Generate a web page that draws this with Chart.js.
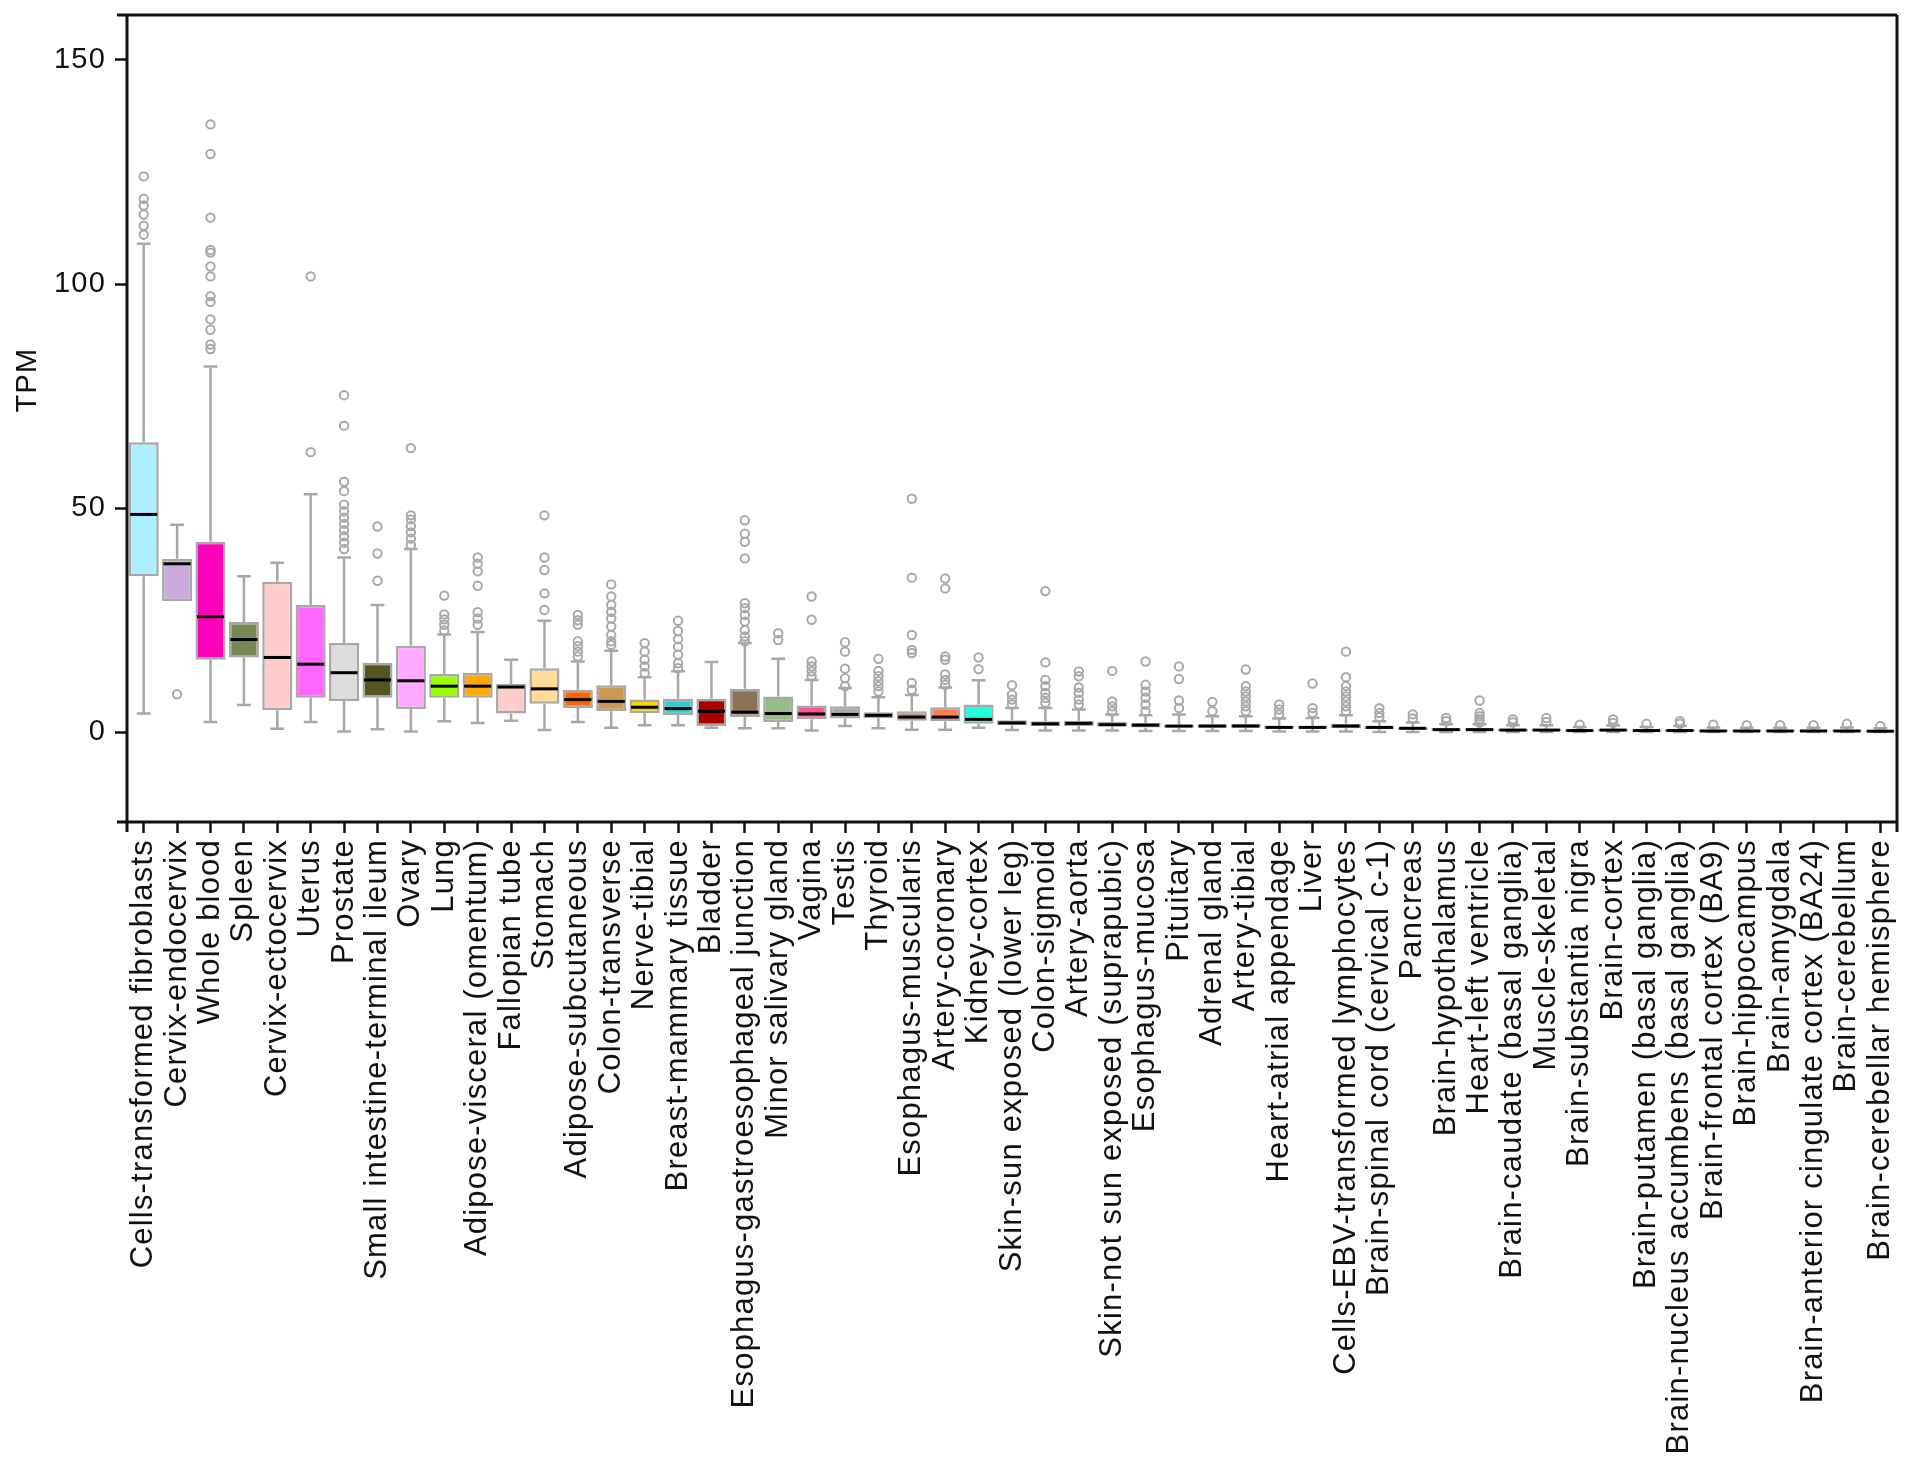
<!DOCTYPE html>
<html>
<head>
<meta charset="utf-8">
<title>TPM by tissue</title>
<script src="https://cdn.jsdelivr.net/npm/chart.js@4.4.1/dist/chart.umd.min.js"></script>
<style>
  html, body { margin: 0; padding: 0; background: #fff; }
  #wrap { position: relative; width: 1913px; height: 1466px; }
</style>
</head>
<body>
<div id="wrap"><canvas id="boxChart"></canvas></div>
<script>
// tissues, in the order they appear on the x axis
const tissues = [
  'Cells-transformed fibroblasts', 'Cervix-endocervix', 'Whole blood', 'Spleen',
  'Cervix-ectocervix', 'Uterus', 'Prostate', 'Small intestine-terminal ileum', 'Ovary',
  'Lung', 'Adipose-visceral (omentum)', 'Fallopian tube', 'Stomach', 'Adipose-subcutaneous',
  'Colon-transverse', 'Nerve-tibial', 'Breast-mammary tissue', 'Bladder',
  'Esophagus-gastroesophageal junction', 'Minor salivary gland', 'Vagina', 'Testis',
  'Thyroid', 'Esophagus-muscularis', 'Artery-coronary', 'Kidney-cortex',
  'Skin-sun exposed (lower leg)', 'Colon-sigmoid', 'Artery-aorta',
  'Skin-not sun exposed (suprapubic)', 'Esophagus-mucosa', 'Pituitary', 'Adrenal gland',
  'Artery-tibial', 'Heart-atrial appendage', 'Liver', 'Cells-EBV-transformed lymphocytes',
  'Brain-spinal cord (cervical c-1)', 'Pancreas', 'Brain-hypothalamus', 'Heart-left ventricle',
  'Brain-caudate (basal ganglia)', 'Muscle-skeletal', 'Brain-substantia nigra', 'Brain-cortex',
  'Brain-putamen (basal ganglia)', 'Brain-nucleus accumbens (basal ganglia)',
  'Brain-frontal cortex (BA9)', 'Brain-hippocampus', 'Brain-amygdala',
  'Brain-anterior cingulate cortex (BA24)', 'Brain-cerebellum', 'Brain-cerebellar hemisphere'
];

// box statistics (TPM)
const whiskerLow = [4.2, 29.3, 2.3, 6.1, 0.8, 2.3, 0.2, 0.7, 0.2, 2.5, 2.1, 2.6, 0.5, 2.3,
  1.0, 1.6, 1.6, 1.0, 0.9, 0.9, 0.4, 1.4, 0.9, 0.6, 0.6, 1.0, 0.5, 0.4, 0.4, 0.4, 0.3, 0.3,
  0.3, 0.3, 0.2, 0.2, 0.2, 0.1, 0.1, 0.1, 0.1, 0.1, 0.1, 0.1, 0.1, 0.05, 0.05, 0.05, 0.05,
  0.05, 0.05, 0.05, 0.05];
const q1 = [34.8, 29.3, 16.2, 16.7, 4.9, 7.7, 7.0, 7.7, 5.2, 7.7, 7.7, 4.2, 6.4, 5.4,
  4.7, 4.3, 3.8, 1.4, 3.4, 2.3, 2.9, 3.1, 3.2, 2.6, 2.5, 1.9, 1.6, 1.4, 1.4, 1.3, 1.1, 1.0,
  1.0, 1.0, 0.8, 0.8, 0.9, 0.7, 0.6, 0.4, 0.4, 0.3, 0.3, 0.2, 0.3, 0.2, 0.2, 0.2, 0.2,
  0.2, 0.2, 0.2, 0.15];
const median = [48.6, 37.6, 25.8, 20.7, 16.7, 15.2, 13.3, 11.7, 11.5, 10.3, 10.3, 10.1, 9.7, 7.3,
  6.9, 5.6, 5.3, 4.7, 4.5, 4.2, 4.1, 4.0, 3.8, 3.4, 3.4, 2.9, 2.1, 1.9, 2.0, 1.7, 1.6, 1.4,
  1.4, 1.4, 1.1, 1.1, 1.4, 1.1, 0.9, 0.6, 0.6, 0.5, 0.5, 0.4, 0.5, 0.4, 0.4, 0.3, 0.3,
  0.3, 0.3, 0.3, 0.25];
const q3 = [64.7, 38.7, 42.5, 24.6, 33.6, 28.4, 19.9, 15.5, 19.3, 13.0, 13.3, 10.8, 14.3, 9.5,
  10.5, 7.3, 7.5, 7.5, 9.7, 8.0, 6.0, 5.8, 4.5, 4.7, 5.6, 6.2, 2.7, 2.5, 2.6, 2.3, 2.1, 1.7,
  1.8, 1.9, 1.4, 1.4, 1.9, 1.3, 1.1, 0.9, 0.9, 0.8, 0.8, 0.6, 0.7, 0.6, 0.7, 0.5, 0.5,
  0.5, 0.5, 0.5, 0.4];
const whiskerHigh = [109, 46.3, 81.6, 34.8, 37.8, 53.1, 39.0, 28.4, 40.9, 21.8, 22.4, 16.2, 24.9, 15.8,
  18.2, 12.3, 13.6, 15.7, 19.9, 16.4, 11.7, 9.9, 7.8, 8.3, 10.0, 11.6, 5.4, 5.4, 5.1, 4.0, 3.8, 4.0,
  3.6, 3.6, 3.1, 3.2, 3.8, 2.5, 2.2, 1.8, 1.8, 1.6, 1.6, 1.2, 1.5, 1.2, 1.4, 1.1, 1.0,
  1.0, 1.0, 1.1, 0.9];
const outliers = [
  [111, 113, 115.5, 117.5, 119, 124],
  [8.5],
  [85.5, 86.5, 89.8, 92.1, 96, 97.3, 101.7, 103.9, 107, 107.6, 114.8, 129, 135.6],
  [],
  [],
  [62.5, 101.7],
  [40.9, 42.3, 43.7, 45.1, 46.5, 47.9, 49.3, 50.8, 53.8, 55.9, 68.4, 75.2],
  [33.8, 39.9, 45.9],
  [41.8, 43.2, 44.6, 46, 47.5, 48.4, 63.4],
  [22.7, 24, 25.2, 26.3, 30.5],
  [24, 25.4, 26.8, 32.7, 35.9, 37.6, 39],
  [],
  [27.3, 31, 36.2, 39, 48.4],
  [16.9, 18, 19.2, 20.3, 24, 25, 26.2],
  [19.5, 20.3, 21.7, 23.6, 25.4, 26.9, 28.4, 30.3, 33],
  [13.2, 14.7, 16.2, 18, 19.9],
  [14.3, 15.4, 17.3, 19.1, 20.8, 22.6, 24.9],
  [],
  [20.3, 21.4, 22.8, 24.7, 26.2, 27.7, 28.8, 38.8, 42.5, 44.3, 47.3],
  [20.6, 22.1],
  [12.5, 13.6, 14.7, 15.8, 25.1, 30.3],
  [10.3, 12.1, 14.2, 18, 20.1],
  [9.1, 10.3, 11.4, 12.5, 13.7, 16.4],
  [9.5, 11, 17.7, 18.4, 21.7, 34.5, 52.1],
  [10.6, 11.7, 12.9, 16.2, 16.9, 32.1, 34.3],
  [14.1, 16.7],
  [6.2, 7.3, 8.4, 10.5],
  [6.6, 7.7, 8.8, 10.3, 11.7, 15.6, 31.5],
  [6.2, 7.3, 8.8, 10, 12.5, 13.6],
  [4.7, 5.8, 6.9, 13.7],
  [4.7, 6.2, 7.7, 9.1, 10.6, 15.8],
  [5.4, 7.1, 11.9, 14.7],
  [4.7, 6.8],
  [4.7, 5.8, 6.9, 8, 9.1, 10.3, 14],
  [4, 5.1, 6.2],
  [4.3, 5.4, 10.9],
  [4.7, 5.8, 6.9, 8, 9.1, 10.3, 12.3, 18],
  [3.4, 4.3, 5.4],
  [3.1, 4],
  [2.5, 3.2],
  [2.2, 3, 3.6, 4.3, 7.1],
  [2.2, 2.9],
  [2.3, 3.2],
  [1.7],
  [2.1, 2.9],
  [1.9],
  [1.9, 2.5],
  [1.7],
  [1.6],
  [1.6],
  [1.6],
  [1.9],
  [1.4]
];

const boxColors = [
  '#AAEEFF', '#CCAADD', '#FF00BB', '#778855', '#FFCCCC', '#FF66FF', '#DDDDDD', '#555522', '#FFAAFF',
  '#99FF00', '#FFAA00', '#FFCCCC', '#FFDD99', '#FF6600', '#CC9955', '#FFD700', '#33CCCC', '#AA0000',
  '#8B7355', '#99BB88', '#FF5599', '#AAAAAA', '#006600', '#BB9988', '#FF7F50', '#22FFDD',
  '#7777FF', '#EEBB77', '#FF5555', '#0000FF', '#552200', '#AAFF99', '#33DD33', '#FF0000',
  '#9900FF', '#AABB66', '#CC66FF', '#EEEE00', '#995522', '#EEEE00', '#660099', '#EEEE00',
  '#AAAAFF', '#EEEE00', '#EEEE00', '#EEEE00', '#EEEE00', '#EEEE00', '#EEEE00', '#EEEE00',
  '#EEEE00', '#EEEE00', '#EEEE00'
];

const yTicks = [0, 50, 100, 150];

const lineGray = '#a8a8a8';
const ink = '#111111';

// flat list of outlier points for the scatter layer
const outlierPoints = [];
tissues.forEach((t, i) => {
  outliers[i].forEach(v => outlierPoints.push({ x: t, y: v }));
});

// the original labels are set a bit looser than plain Arial
function loosenText(chart) {
  if ('letterSpacing' in chart.ctx) chart.ctx.letterSpacing = '1.2px';
}

// whiskers under the boxes, medians on top of them, frame and y title at the end
const boxPlotExtras = {
  id: 'boxPlotExtras',
  beforeLayout: loosenText,
  beforeDraw: loosenText,
  beforeDatasetsDraw(chart) {
    const { ctx } = chart;
    const y = chart.scales.y;
    const meta = chart.getDatasetMeta(0);
    ctx.save();
    ctx.strokeStyle = lineGray;
    ctx.lineWidth = 2.5;
    meta.data.forEach((bar, i) => {
      const cx = bar.x;
      const cap = bar.width * 0.23;
      const yHi = y.getPixelForValue(whiskerHigh[i]);
      const yLo = y.getPixelForValue(whiskerLow[i]);
      const yQ1 = y.getPixelForValue(q1[i]);
      const yQ3 = y.getPixelForValue(q3[i]);
      ctx.beginPath();
      ctx.moveTo(cx, yQ3); ctx.lineTo(cx, yHi);
      ctx.moveTo(cx - cap, yHi); ctx.lineTo(cx + cap, yHi);
      if (whiskerLow[i] < q1[i]) {
        ctx.moveTo(cx, yQ1); ctx.lineTo(cx, yLo);
        ctx.moveTo(cx - cap, yLo); ctx.lineTo(cx + cap, yLo);
      }
      ctx.stroke();
    });
    ctx.restore();
  },
  afterDatasetDraw(chart, args) {
    if (args.index !== 0) return;
    const { ctx } = chart;
    const y = chart.scales.y;
    ctx.save();
    ctx.strokeStyle = '#000';
    ctx.lineWidth = 3;
    args.meta.data.forEach((bar, i) => {
      const half = bar.width / 2 - 1.5;
      const ym = y.getPixelForValue(median[i]);
      ctx.beginPath();
      ctx.moveTo(bar.x - half, ym);
      ctx.lineTo(bar.x + half, ym);
      ctx.stroke();
    });
    ctx.restore();
  },
  afterDraw(chart) {
    const { ctx, chartArea: a } = chart;
    ctx.save();
    ctx.strokeStyle = ink;
    ctx.lineWidth = 3;
    ctx.beginPath();
    ctx.moveTo(a.left - 10, a.top); ctx.lineTo(a.right, a.top);
    ctx.moveTo(a.left - 10, a.bottom); ctx.lineTo(a.right, a.bottom);
    ctx.moveTo(a.left, a.top); ctx.lineTo(a.left, a.bottom + 10);
    ctx.moveTo(a.right, a.top); ctx.lineTo(a.right, a.bottom + 10);
    ctx.stroke();
    // y axis title
    ctx.fillStyle = ink;
    ctx.font = '29px "Liberation Sans", Arial, sans-serif';
    ctx.textAlign = 'center';
    ctx.textBaseline = 'middle';
    ctx.translate(28, 380);
    ctx.rotate(-Math.PI / 2);
    ctx.fillText('TPM', 0, 0);
    ctx.restore();
  }
};

Chart.defaults.font.family = '"Liberation Sans", Arial, sans-serif';
Chart.defaults.font.size = 29;
Chart.defaults.color = ink;

const ctx = document.getElementById('boxChart').getContext('2d');
new Chart(ctx, {
  type: 'bar',
  data: {
    labels: tissues,
    datasets: [{
      label: 'IQR',
      data: tissues.map((t, i) => [q1[i], q3[i]]),
      backgroundColor: boxColors,
      borderColor: lineGray,
      borderWidth: 2.5,
      borderSkipped: false,
      barPercentage: 0.9,
      categoryPercentage: 1.0
    }, {
      type: 'line',
      label: 'Outliers',
      data: outlierPoints,
      showLine: false,
      pointStyle: 'circle',
      pointRadius: 4.2,
      pointBorderWidth: 2,
      pointBorderColor: lineGray,
      pointBackgroundColor: 'rgba(255,255,255,0)'
    }]
  },
  options: {
    responsive: true,
    maintainAspectRatio: false,
    devicePixelRatio: 1,
    animation: false,
    layout: { padding: { top: 15, right: 16, left: 0, bottom: 0 } },
    plugins: {
      legend: { display: false },
      tooltip: { enabled: false }
    },
    scales: {
      x: {
        offset: true,
        border: { display: false },
        grid: {
          offset: false,
          drawOnChartArea: false,
          drawTicks: true,
          tickLength: 11,
          tickWidth: 2.5,
          tickColor: ink
        },
        ticks: {
          autoSkip: false,
          maxRotation: 90,
          minRotation: 90,
          padding: 6,
          color: ink,
          font: { size: 31 }
        },
        afterFit(scale) {
          scale.height = 644;
          scale.paddingLeft = 0;
          scale.paddingRight = 0;
        }
      },
      y: {
        min: -20,
        max: 160,
        border: { display: false },
        grid: {
          drawOnChartArea: false,
          drawTicks: true,
          tickLength: 12,
          tickWidth: 2.5,
          tickColor: ink
        },
        ticks: { padding: 9, color: ink },
        afterBuildTicks(scale) {
          scale.ticks = yTicks.map(v => ({ value: v }));
        },
        afterFit(scale) {
          scale.width = 127;
          scale.paddingTop = 0;
          scale.paddingBottom = 0;
        }
      }
    }
  },
  plugins: [boxPlotExtras]
});
</script>
</body>
</html>
